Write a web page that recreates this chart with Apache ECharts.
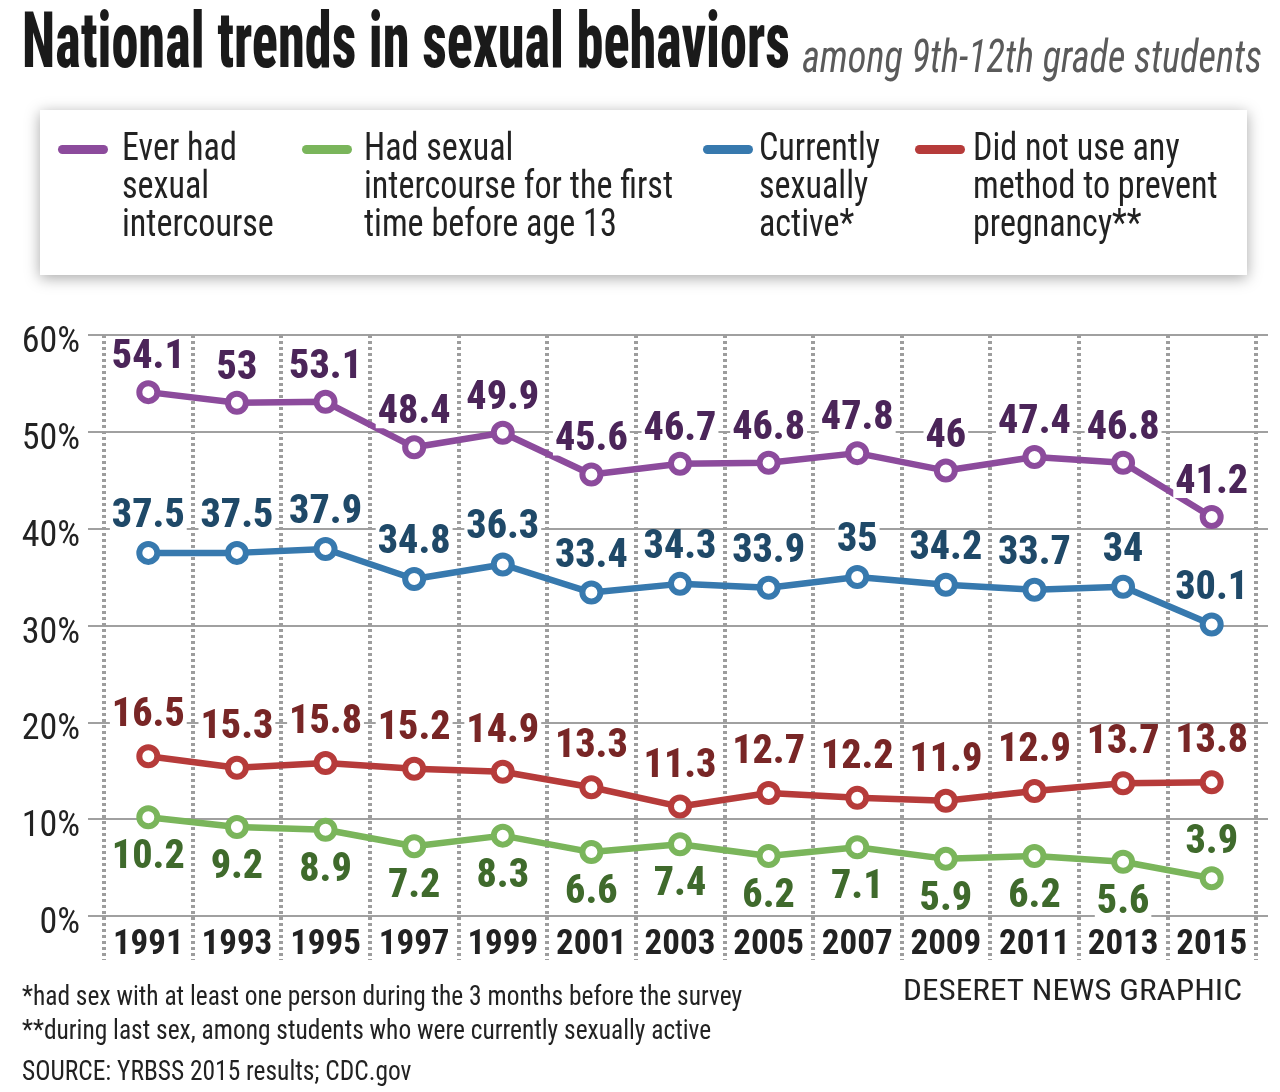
<!DOCTYPE html>
<html><head><meta charset="utf-8">
<script src="https://cdn.jsdelivr.net/npm/echarts@6/dist/echarts.min.js"></script>
<style>html,body{margin:0;padding:0;background:#fff}#chart{width:1280px;height:1092px}</style>
</head><body><div id="chart"></div>
<script>
// ---- data ----
const years = ['1991','1993','1995','1997','1999','2001','2003','2005','2007','2009','2011','2013','2015'];
const everHad = [54.1, 53, 53.1, 48.4, 49.9, 45.6, 46.7, 46.8, 47.8, 46, 47.4, 46.8, 41.2];
const before13 = [10.2, 9.2, 8.9, 7.2, 8.3, 6.6, 7.4, 6.2, 7.1, 5.9, 6.2, 5.6, 3.9];
const currentlyActive = [37.5, 37.5, 37.9, 34.8, 36.3, 33.4, 34.3, 33.9, 35, 34.2, 33.7, 34, 30.1];
const noMethod = [16.5, 15.3, 15.8, 15.2, 14.9, 13.3, 11.3, 12.7, 12.2, 11.9, 12.9, 13.7, 13.8];
const seriesNames = ['Ever had sexual intercourse', 'Had sexual intercourse for the first time before age 13', 'Currently sexually active*', 'Did not use any method to prevent pregnancy**'];
const legendLines = [['Ever had','sexual','intercourse'], ['Had sexual','intercourse for the first','time before age 13'], ['Currently','sexually','active*'], ['Did not use any','method to prevent','pregnancy**']];
const yMin = 0, yMax = 60, yStep = 10;
const titleText = 'National trends in sexual behaviors';
const subtitleText = 'among 9th-12th grade students';
const notes = ['*had sex with at least one person during the 3 months before the survey', '**during last sex, among students who were currently sexually active', 'SOURCE: YRBSS 2015 results; CDC.gov'];
const creditText = 'DESERET NEWS GRAPHIC';

// ---- styles ----
const FF = '"Roboto Condensed", "Open Sans Condensed", Roboto, sans-serif';
const lineColors = ['#8C4B9C', '#7AB55B', '#3779AE', '#B63B3A'];
const labelColors = ['#4B2559', '#3F6A2C', '#1F4968', '#782626'];
// label placement overrides (series index -> point indexes whose label flips side)
const flippedLabels = {1: [12]};

const mctx = document.createElement('canvas').getContext('2d');
function measure(text, size, weight, style) {
  mctx.font = (style || 'normal') + ' ' + (weight || 'normal') + ' ' + size + 'px ' + FF;
  return mctx.measureText(text).width;
}
function textEl(text, x, y, size, opt) {
  opt = opt || {};
  return {
    type: 'text', x: x, y: y, scaleX: opt.scale || 1, z: 100,
    style: {
      text: text, fontSize: size, fontFamily: FF, fontWeight: opt.weight || 'normal', fontStyle: opt.style || 'normal',
      fill: opt.fill || '#222', align: opt.align || 'left', textAlign: opt.align || 'left',
      verticalAlign: 'middle', textVerticalAlign: 'middle'
    }
  };
}

const graphics = [];
// title
graphics.push(textEl(titleText, 22, 47, 78, {weight: 800, fill: '#1a1a1a', scale: 768 / measure(titleText, 78, 800)}));
graphics.push(textEl(subtitleText, 802, 60, 46, {style: 'italic', fill: '#5a5a5a', scale: 460 / measure(subtitleText, 46, 'normal', 'italic')}));
// legend box
graphics.push({type: 'rect', shape: {x: 40, y: 110, width: 1207, height: 165}, z: 90,
  style: {fill: '#fff', shadowBlur: 14, shadowColor: 'rgba(0,0,0,0.35)', shadowOffsetY: 3}});
const legX = [[58, 122], [302, 364], [703, 759], [915, 973]];
const legScale = 309 / measure('intercourse for the first', 39);
legendLines.forEach(function (lines, i) {
  graphics.push({type: 'rect', shape: {x: legX[i][0], y: 145, width: 50, height: 9, r: 4.5}, z: 100, style: {fill: lineColors[i]}});
  lines.forEach(function (ln, j) {
    graphics.push(textEl(ln, legX[i][1], 150 + j * 38, 39, {scale: legScale}));
  });
});
// notes
const noteScale = 720 / measure(notes[0], 28);
graphics.push(textEl(notes[0], 22, 998, 28, {scale: noteScale}));
graphics.push(textEl(notes[1], 22, 1032, 28, {scale: noteScale}));
graphics.push(textEl(notes[2], 22, 1073, 28, {scale: noteScale}));
graphics.push(textEl(creditText, 1242, 993, 29, {align: 'right', scale: 339 / measure(creditText, 29)}));

// ---- chart ----
const pxPerUnit = (916 - 335) / (yMax - yMin);
const dataMin = yMax - (960 - 335) / pxPerUnit;

function mkSeries(i, data, pos, dist, flipDist) {
  const flip = flippedLabels[i] || [];
  const other = pos === 'top' ? 'bottom' : 'top';
  return {
    name: seriesNames[i], type: 'line', xAxisIndex: 1, yAxisIndex: 1,
    data: data.map(function (v, k) {
      return flip.indexOf(k) >= 0 ? {value: v, label: {position: other, distance: flipDist}} : v;
    }),
    symbol: 'circle', symbolSize: 18, z: 10 + i,
    lineStyle: {color: lineColors[i], width: 6.5},
    itemStyle: {color: '#fff', borderColor: lineColors[i], borderWidth: 6},
    label: {show: true, position: pos, distance: dist, fontFamily: FF, fontWeight: 800, fontSize: 40, lineHeight: 30,
      color: labelColors[i], backgroundColor: '#fff', padding: [0, 2]},
    emphasis: {disabled: true}, animation: false
  };
}

const chart = echarts.init(document.getElementById('chart'), null, {renderer: 'canvas'});
chart.setOption({
  backgroundColor: '#fff',
  animation: false,
  graphic: {elements: graphics},
  grid: [
    {left: 88, right: 12, top: 335, bottom: 176},
    {left: 104, right: 24, top: 335, bottom: 132}
  ],
  xAxis: [
    {gridIndex: 0, type: 'value', show: false, min: 0, max: 1},
    {gridIndex: 1, type: 'category', data: years, boundaryGap: true, position: 'bottom', offset: -(960 - 916),
      axisLine: {show: false, onZero: false},
      axisTick: {show: false},
      axisLabel: {interval: 0, margin: 12, fontSize: 35, fontWeight: 'bold', fontFamily: FF, color: '#222'},
      splitLine: {show: true, interval: 0, lineStyle: {color: '#9d9d9d', width: 4, type: [3, 3]}}}
  ],
  yAxis: [
    {gridIndex: 0, type: 'value', min: yMin, max: yMax, interval: yStep,
      axisLine: {show: false}, axisTick: {show: false},
      axisLabel: {formatter: '{value}%', fontSize: 36, fontFamily: FF, color: '#222', margin: 8, verticalAlign: 'top', lineHeight: 16},
      splitLine: {show: true, lineStyle: {color: '#a0a0a0', width: 2}}},
    {gridIndex: 1, type: 'value', min: dataMin, max: yMax, show: false, splitLine: {show: false}}
  ],
  series: [
    mkSeries(0, everHad, 'top', 7),
    mkSeries(1, before13, 'bottom', 14, 8),
    mkSeries(2, currentlyActive, 'top', 9),
    mkSeries(3, noMethod, 'top', 13)
  ]
});
</script>
</body></html>
